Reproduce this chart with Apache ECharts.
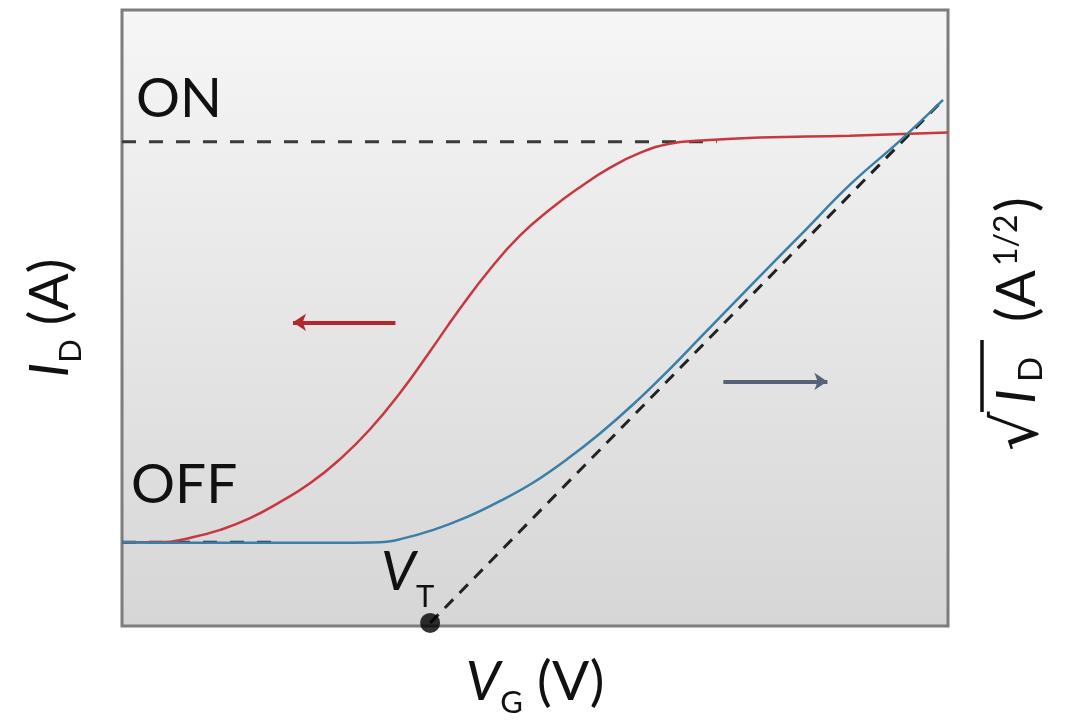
<!DOCTYPE html>
<html>
<head>
<meta charset="utf-8">
<script src="https://cdn.jsdelivr.net/npm/echarts@6/dist/echarts.min.js"></script>
<style>
  html, body { margin: 0; padding: 0; background: #ffffff; }
  #chart { width: 1078px; height: 723px; }
</style>
</head>
<body>
<div id="chart"></div>
<script>
// ---- Data (arbitrary units: V_G 0..10, I_D / sqrt(I_D) 0..10) ----
const redVG   = [0, 0.46, 0.82, 1.19, 1.55, 1.91, 2.28, 2.64, 3.00, 3.37, 3.73, 4.09, 4.46, 4.82, 5.18, 5.54, 5.91, 6.27, 6.63, 7.00, 7.72, 8.81, 10];
const redID   = [1.36, 1.36, 1.43, 1.56, 1.75, 2.01, 2.32, 2.71, 3.19, 3.79, 4.46, 5.15, 5.80, 6.34, 6.76, 7.12, 7.44, 7.68, 7.83, 7.88, 7.93, 7.96, 8.01];

const blueVG  = [0, 0.94, 2.15, 3.12, 3.37, 3.77, 4.18, 4.58, 4.98, 5.39, 5.79, 6.19, 6.60, 7.00, 7.60, 8.21, 8.81, 9.42, 9.94];
const blueSq  = [1.36, 1.35, 1.35, 1.36, 1.41, 1.56, 1.77, 2.03, 2.33, 2.71, 3.13, 3.60, 4.13, 4.68, 5.51, 6.34, 7.16, 7.88, 8.54];

const tangentVG = [3.73, 9.94];
const tangentSq = [0.05, 8.54];

const onVG  = [0, 7.2];
const onID  = [7.86, 7.86];
const offVG = [0, 1.88];
const offID = [1.36, 1.36];

const vtPoint = [3.73, 0.05];

const redArrow  = [[3.31, 4.93], [2.07, 4.93]];
const blueArrow = [[7.28, 3.97], [8.54, 3.97]];

const labelON = 'ON';
const labelOFF = 'OFF';

// ---- Chart ----
const FONT = 'Lato';
const TXT = '#111111';
const chart = echarts.init(document.getElementById('chart'), null, { renderer: 'canvas' });

const zip = (a, b) => a.map((v, i) => [v, b[i]]);

const mainRich = {
  i: { fontFamily: FONT, fontStyle: 'italic', fontSize: 55, lineHeight: 72, color: TXT, verticalAlign: 'middle' },
  s: { fontFamily: FONT, fontSize: 31, lineHeight: 30, color: TXT, verticalAlign: 'bottom' },
  n: { fontFamily: FONT, fontSize: 55, lineHeight: 72, color: TXT, verticalAlign: 'middle' }
};

const txt = (text, x, y, size, italic, extra) => Object.assign({
  type: 'text', x: x, y: y,
  style: {
    text: text, font: (italic ? 'italic ' : '') + size + 'px ' + FONT,
    fill: TXT, textAlign: 'left', textVerticalAlign: 'middle'
  }
}, extra || {});

const option = {
  animation: false,
  grid: {
    left: 122, right: 130, top: 10, bottom: 96,
    show: true,
    borderColor: '#7d7d7d',
    borderWidth: 3,
    backgroundColor: new echarts.graphic.LinearGradient(0, 0, 0, 1, [
      { offset: 0, color: '#f6f6f6' },
      { offset: 1, color: '#d6d6d6' }
    ])
  },
  xAxis: {
    type: 'value', min: 0, max: 10,
    axisLine: { show: false }, axisTick: { show: false }, axisLabel: { show: false }, splitLine: { show: false },
    name: '{i|V}{s|G}{n| (V)}',
    nameLocation: 'middle',
    nameGap: 20,
    nameTextStyle: { rich: mainRich }
  },
  yAxis: [{
    type: 'value', min: 0, max: 10,
    axisLine: { show: false }, axisTick: { show: false }, axisLabel: { show: false }, splitLine: { show: false },
    name: '{i|I}{s|D}{n| (A)}',
    nameLocation: 'middle',
    nameRotate: 90,
    nameGap: 36,
    nameTextStyle: { rich: mainRich }
  }, {
    type: 'value', min: 0, max: 10, position: 'right',
    axisLine: { show: false }, axisTick: { show: false }, axisLabel: { show: false }, splitLine: { show: false }
  }],
  series: [
    {
      name: 'ON level', type: 'line', data: zip(onVG, onID), symbol: 'none', silent: true,
      lineStyle: { color: '#3a3a3a', width: 3, type: [14, 13] }, z: 2
    },
    {
      name: 'OFF level', type: 'line', data: zip(offVG, offID), symbol: 'none', silent: true,
      lineStyle: { color: '#2a2f3a', width: 3, type: [14, 13] }, z: 2
    },
    {
      name: 'I_D', type: 'line', data: zip(redVG, redID), symbol: 'none', smooth: 0.5,
      lineStyle: { color: '#c8373f', width: 2.5 }, z: 3,
      markLine: {
        silent: true, symbol: ['none', 'arrow'], symbolSize: 13,
        label: { show: false },
        lineStyle: { color: '#b3262c', width: 4, type: 'solid' },
        data: [[{ coord: redArrow[0] }, { coord: redArrow[1] }]]
      }
    },
    {
      name: 'tangent', type: 'line', data: zip(tangentVG, tangentSq), symbol: 'none', yAxisIndex: 1, silent: true,
      lineStyle: { color: '#222222', width: 3, type: [12, 9] }, z: 3
    },
    {
      name: 'sqrt I_D', type: 'line', data: zip(blueVG, blueSq), symbol: 'none', smooth: 0.4, yAxisIndex: 1,
      lineStyle: { color: '#3b7fa6', width: 2.5 }, z: 4,
      markLine: {
        silent: true, symbol: ['none', 'arrow'], symbolSize: 13,
        label: { show: false },
        lineStyle: { color: '#55627a', width: 4, type: 'solid' },
        data: [[{ coord: blueArrow[0] }, { coord: blueArrow[1] }]]
      }
    },
    {
      name: 'V_T', type: 'scatter', data: [vtPoint], yAxisIndex: 1, symbolSize: 20, clip: false,
      itemStyle: { color: '#000000' }, z: 6
    }
  ],
  graphic: [
    txt(labelON, 136, 99, 55, false, { z: 10 }),
    txt(labelOFF, 131, 485, 55, false, { z: 10 }),
    txt('V', 381, 572, 55, true, { z: 10 }),
    txt('T', 416, 597, 31, false, { z: 10 }),
    {
      type: 'group', x: 1017, y: 316, rotation: Math.PI / 2, z: 10,
      children: [
        {
          type: 'text', x: -135, y: 4,
          style: { text: '√', font: '62px DejaVu Sans', fill: TXT, textAlign: 'left', textVerticalAlign: 'middle' }
        },
        {
          type: 'line', shape: { x1: -96, y1: -35, x2: -24, y2: -35 },
          style: { stroke: TXT, lineWidth: 3.5 }
        },
        txt('I', -88, 0, 55, true),
        txt('D', -66, 14, 33, false),
        txt('(A', -6, 0, 55, false),
        txt('1/2', 50, -10, 32, false),
        txt(')', 104, 0, 55, false)
      ]
    }
  ]
};

chart.setOption(option);
</script>
</body>
</html>
